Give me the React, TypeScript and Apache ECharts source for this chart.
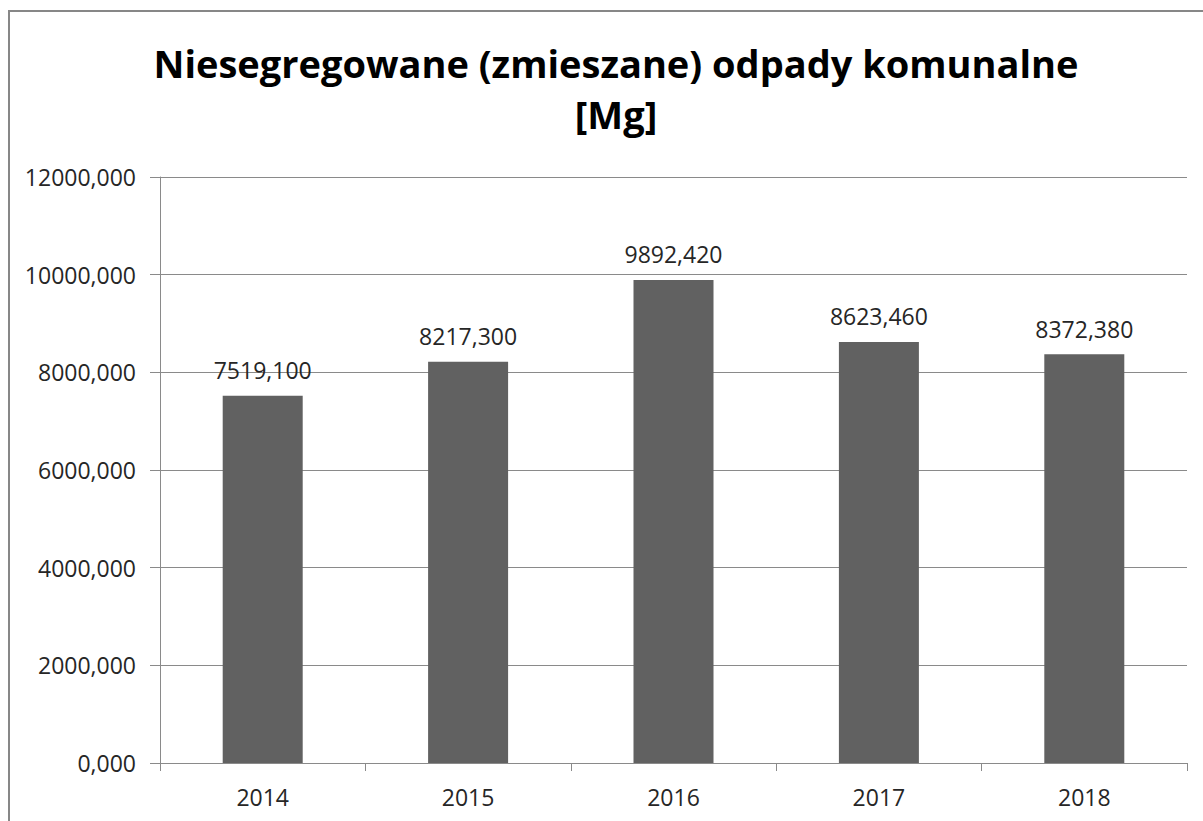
import React, { useEffect, useRef } from "react";
import * as echarts from "echarts";

const categories = ["2014", "2015", "2016", "2017", "2018"];
const values = [7519.1, 8217.3, 9892.42, 8623.46, 8372.38];
const titleText = "Niesegregowane (zmieszane) odpady komunalne\n[Mg]";

const fmt = (v: number) => v.toFixed(3).replace(".", ",");

export default function App() {
  const ref = useRef<HTMLDivElement>(null);
  useEffect(() => {
    if (!ref.current) return;
    const chart = echarts.init(ref.current, undefined, { renderer: "svg" });
    chart.setOption({
      animation: false,
      backgroundColor: "#ffffff",
      graphic: [
        {
          type: "rect",
          shape: { x: 9, y: 11, width: 1400, height: 1000 },
          style: { fill: "none", stroke: "#878787", lineWidth: 2 },
          silent: true,
          z: 100,
        },
      ],
      title: {
        text: titleText,
        left: 611,
        top: 32,
        textAlign: "center",
        textStyle: {
          fontFamily: "Open Sans",
          fontWeight: "bold",
          fontSize: 38,
          lineHeight: 51,
          color: "#000000",
        },
      },
      grid: { left: 160, top: 177, right: 16, bottom: 58 },
      xAxis: {
        type: "category",
        data: categories,
        axisLine: { lineStyle: { color: "#8a8a8a", width: 1 } },
        axisTick: { show: true, length: 8, lineStyle: { color: "#8a8a8a" } },
        axisLabel: {
          margin: 22,
          fontFamily: "Open Sans",
          fontSize: 23,
          color: "#262626",
        },
      },
      yAxis: {
        type: "value",
        min: 0,
        max: 12000,
        interval: 2000,
        axisLine: { show: true, lineStyle: { color: "#8a8a8a", width: 1 } },
        axisTick: { show: true, length: 10, lineStyle: { color: "#8a8a8a" } },
        splitLine: { lineStyle: { color: "#8a8a8a", width: 1 } },
        axisLabel: {
          margin: 24,
          formatter: (v: number) => fmt(v),
          fontFamily: "Open Sans",
          fontSize: 23,
          color: "#262626",
        },
      },
      series: [
        {
          type: "bar",
          data: values,
          barWidth: 80,
          itemStyle: { color: "#616161" },
          label: {
            show: true,
            position: "top",
            distance: 14,
            formatter: (p: any) => fmt(p.value),
            fontFamily: "Open Sans",
            fontSize: 23,
            color: "#262626",
          },
        },
      ],
    });
    return () => chart.dispose();
  }, []);
  return (
    <div
      ref={ref}
      style={{ position: "fixed", left: 0, top: 0, width: 1203, height: 821 }}
    />
  );
}
